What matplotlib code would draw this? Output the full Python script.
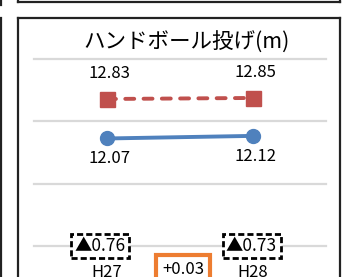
import matplotlib.pyplot as plt
from matplotlib.lines import Line2D

plt.rcParams['font.family'] = ['Noto Sans CJK JP', 'DejaVu Sans']

# data
years = ['H27', 'H28']
national = [12.83, 12.85]   # red dashed
local = [12.07, 12.12]      # blue solid
gap_labels = ['▲0.76', '▲0.73']
change_label = '+0.03'
title = 'ハンドボール投げ(m)'
grid_vals = [10.0, 11.2, 12.4, 13.6]

W, H = 343, 277
fig = plt.figure(figsize=(W / 100, H / 100), dpi=100)

def fx(px):
    return px / W

def fy(py):
    return 1 - py / H

ax = fig.add_axes([fx(34), fy(246), fx(326) - fx(34), fy(59) - fy(246)])
ax.set_xlim(-0.5, 1.5)
ax.set_ylim(grid_vals[0], grid_vals[-1])
for v in grid_vals:
    ax.axhline(v, color='#d9d9d9', lw=1.6, zorder=0, clip_on=False)
for s in ax.spines.values():
    s.set_visible(False)
ax.set_yticks([])
ax.set_xticks(range(len(years)))
ax.set_xticklabels(years, fontsize=12)
ax.tick_params(axis='x', length=0, pad=13)

x = list(range(len(years)))
ax.plot(x, national, color='#c0504d', lw=2.8, linestyle=(0, (2.3, 2.4)),
        dash_capstyle='round', marker='s', markersize=10.8, clip_on=False, zorder=3)
ax.plot(x, local, color='#4f81bd', lw=2.8, marker='o', markersize=10,
        clip_on=False, zorder=3)

for i, v in enumerate(national):
    ax.annotate(f'{v:.2f}', (i, v), xytext=(1.5, 18.5), textcoords='offset points',
                ha='center', va='center', fontsize=12)
for i, v in enumerate(local):
    ax.annotate(f'{v:.2f}', (i, v), xytext=(1.5, -14.5), textcoords='offset points',
                ha='center', va='center', fontsize=12)

# gap boxes on the bottom gridline
gap_x = [-0.05, 0.99]
for gx, lab in zip(gap_x, gap_labels):
    ax.text(gx, grid_vals[0], lab, ha='center', va='center', fontsize=12.5,
            family=['Noto Sans CJK JP', 'DejaVu Sans'], zorder=4, clip_on=False,
            bbox=dict(boxstyle='square,pad=0.2', fc='white', ec='black',
                      lw=2, ls=(0, (2.2, 1.1))))

fig.text(fx(183), fy(270), change_label, ha='center', va='center', fontsize=12,
         bbox=dict(boxstyle='square,pad=0.38', fc='white', ec='#ed7d31', lw=3))

fig.text(fx(187), fy(43), title, ha='center', va='center', fontsize=15.5)

# frames
k = dict(color='#222222', lw=1.6, transform=fig.transFigure)
fig.add_artist(Line2D([fx(17.5), fx(17.5)], [fy(17.5), 0], **k))
fig.add_artist(Line2D([fx(17.5), fx(340)], [fy(17.5), fy(17.5)], **k))
fig.add_artist(Line2D([fx(340), fx(340)], [fy(17.5), 0], **k))
fig.add_artist(Line2D([fx(17.5), fx(340)], [fy(1.5), fy(1.5)], **k))
fig.add_artist(Line2D([fx(17.5), fx(17.5)], [fy(1.5), 1], **k))
fig.add_artist(Line2D([fx(340), fx(340)], [fy(1.5), 1], **k))
fig.add_artist(Line2D([fx(0.8), fx(0.8)], [fy(17.5), 0], **k))
fig.add_artist(Line2D([fx(0.8), fx(0.8)], [fy(5), 1], **k))

fig.savefig('out.png', dpi=100)
